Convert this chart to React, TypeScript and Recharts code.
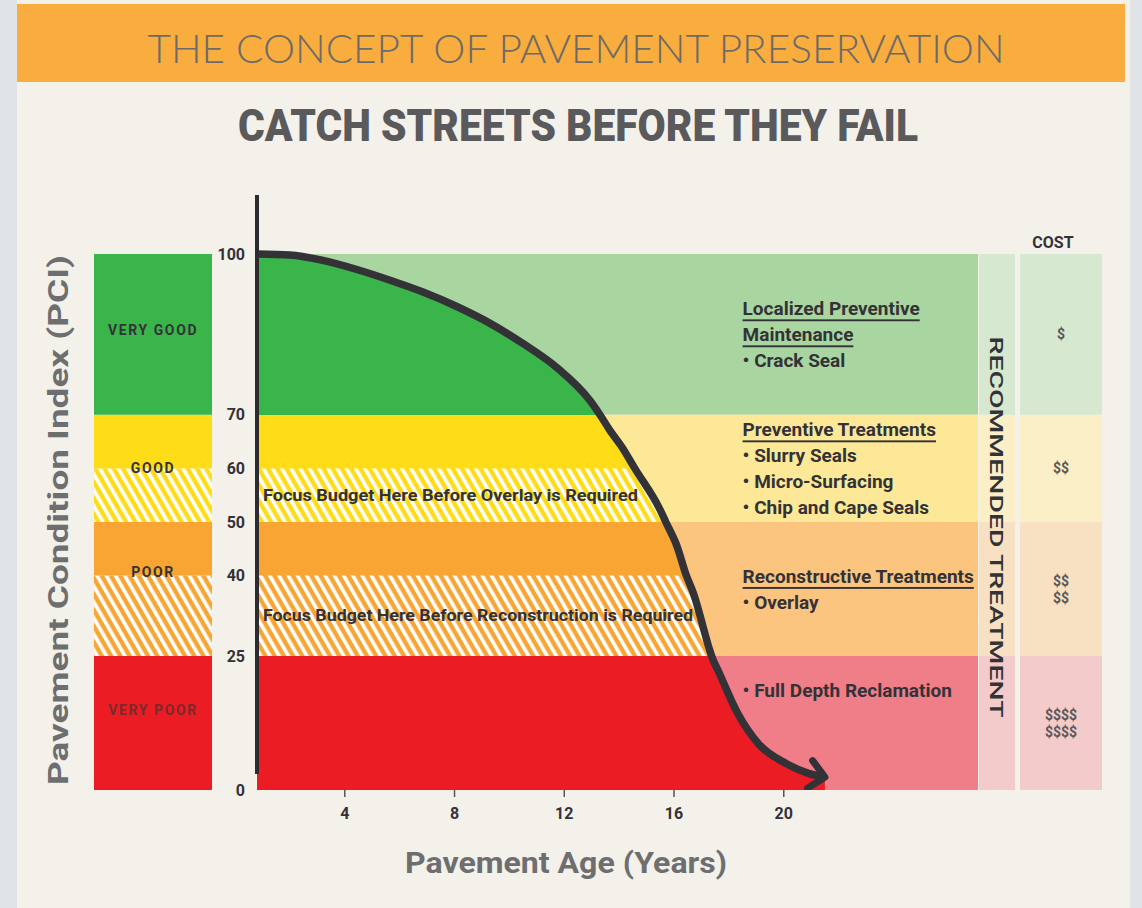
import React from 'react';
import {
  ComposedChart,
  Area,
  Line,
  XAxis,
  YAxis,
  ReferenceArea,
  ReferenceLine,
  BarChart,
  Bar,
} from 'recharts';

// ---------- data ----------
const ageYears = [0.8, 2.0, 3.2, 4.44, 5.65, 6.85, 8.08, 9.28, 10.49, 11.73, 12.93, 13.3, 13.65, 14.1, 14.57, 15.48, 15.7, 16.1, 16.45, 16.7, 17.3, 17.37, 17.66, 18.3, 19.1, 20.1, 20.9, 21.5];
const pciValues = [100, 99.8, 98.8, 97.1, 95.1, 92.9, 90.2, 87.1, 83.3, 78.8, 72.7, 70, 67.2, 64, 60, 52.4, 50, 45.6, 40, 36.8, 26.1, 25, 21.7, 14.5, 8.5, 4.9, 3.1, 2.4];

const ageTicks = [4, 8, 12, 16, 20];
const pciTicks = [0, 25, 40, 50, 60, 70, 100];

// condition groups, top to bottom
const groupNames = ['VERY GOOD', 'GOOD', 'POOR', 'VERY POOR'];
const groupHi = [100, 70, 50, 25];
const groupLo = [70, 50, 25, 0];

// bands, top to bottom
const bandHi = [100, 70, 60, 50, 40, 25];
const bandLo = [70, 60, 50, 40, 25, 0];
const bandGroup = [0, 1, 1, 2, 2, 3];
const bandHatched = [false, false, true, false, true, false];

// hatched "focus budget" bands [low, high]
const hatchedBands = [[50, 60], [25, 40]];
const focusTexts = ['Focus Budget Here Before Overlay is Required', 'Focus Budget Here Before Reconstruction is Required'];
const focusTextWidths = [375, 430];

// treatments per group, top to bottom
const treatmentTitles = [['Localized Preventive', 'Maintenance'], ['Preventive Treatments'], ['Reconstructive Treatments'], []];
const treatmentItems = [['Crack Seal'], ['Slurry Seals', 'Micro-Surfacing', 'Chip and Cape Seals'], ['Overlay'], ['Full Depth Reclamation']];
const costLabels = [['$'], ['$$'], ['$$', '$$'], ['$$$$', '$$$$']];

// ---------- styles ----------
const W = 1142;
const H = 908;
const FONT = 'Roboto, "Open Sans", Lato, sans-serif';
const DARK = '#333237';
const groupSat = ['#3ab54a', '#fedc18', '#f9a533', '#ec1c24'];
const groupLight = ['#a9d6a0', '#fde898', '#fbc47f', '#f07e88'];
const groupPale = ['#d6e8cf', '#faefc6', '#f8e0c2', '#f4cbcb'];
const groupTextShift = [0, 0, 0, -33];
const leftLabelBand = [0, 1, 3, 5];
const leftLabelFrac = [0.47, 1.0, 0.93, 0.4];
const leftLabelColor = [DARK, DARK, DARK, '#7a2a2a'];

const curveData = ageYears.map((age, i) => {
  const pci = pciValues[i];
  const row: any = { age, pci };
  hatchedBands.forEach(([lo, hi], k) => {
    row['h' + k] = pci >= lo ? [lo, Math.min(pci, hi)] : null;
  });
  return row;
});

const COL_TOP = 254;
const COL_H = 536;

function HatchDefs() {
  return (
    <defs>
      <pattern id="whiteStripes" patternUnits="userSpaceOnUse" width="8" height="8" patternTransform="rotate(-30)">
        <rect x="0" y="0" width="3.6" height="8" fill="#ffffff" />
      </pattern>
      <pattern id="hatchY" patternUnits="userSpaceOnUse" width="8" height="8" patternTransform="rotate(-30)">
        <rect x="0" y="0" width="8" height="8" fill={groupSat[1]} />
        <rect x="0" y="0" width="3.6" height="8" fill="#ffffff" />
      </pattern>
      <pattern id="hatchO" patternUnits="userSpaceOnUse" width="8" height="8" patternTransform="rotate(-30)">
        <rect x="0" y="0" width="8" height="8" fill={groupSat[2]} />
        <rect x="0" y="0" width="3.6" height="8" fill="#ffffff" />
      </pattern>
    </defs>
  );
}

function StackColumn({ id, width, values, fills, labelFor }: { id: string; width: number; values: number[]; fills: string[]; labelFor?: (i: number) => any }) {
  const row: any = { cat: id };
  values.forEach((v, i) => {
    row['s' + i] = v;
  });
  const order = values.map((_, i) => i).reverse();
  return (
    <BarChart width={width} height={COL_H} data={[row]} margin={{ top: 0, right: 0, bottom: 0, left: 0 }} barCategoryGap={0} barGap={0}>
      <HatchDefs />
      <XAxis dataKey="cat" type="category" hide />
      <YAxis type="number" domain={[0, 100]} hide />
      {order.map((i) => {
        const lab = labelFor ? labelFor(i) : null;
        return (
          <Bar key={i} dataKey={'s' + i} stackId="s" fill={fills[i]} isAnimationActive={false} {...(lab ? { label: lab } : {})} />
        );
      })}
    </BarChart>
  );
}

const leftLabel = (text: string, frac: number, color: string) => (props: any) => {
  const vb = props.viewBox && props.viewBox.width ? props.viewBox : props;
  return (
    <text x={vb.x + vb.width / 2} y={vb.y + vb.height * frac} textAnchor="middle" dominantBaseline="central" fontFamily={FONT} fontSize={14} fontWeight={700} letterSpacing={1.6} fill={color}>
      {text}
    </text>
  );
};

const costLabel = (lines: string[]) => (props: any) => {
  const vb = props.viewBox && props.viewBox.width ? props.viewBox : props;
  const lh = 17;
  const y0 = vb.y + vb.height / 2 - ((lines.length - 1) * lh) / 2;
  return (
    <text textAnchor="middle" dominantBaseline="central" fontFamily={FONT} fontSize={14} fontWeight={700} fill="#58585a">
      {lines.map((l, i) => (
        <tspan key={i} x={vb.x + vb.width / 2} y={y0 + i * lh}>
          {l}
        </tspan>
      ))}
    </text>
  );
};

const focusLabel = (text: string, width: number) => (props: any) => {
  const vb = props.viewBox && props.viewBox.width ? props.viewBox : props;
  return (
    <text x={vb.x + 6} y={vb.y + vb.height / 2} dominantBaseline="central" textLength={width} lengthAdjust="spacingAndGlyphs" fontFamily={FONT} fontSize={16} fontWeight={700} fill={DARK}>
      {text}
    </text>
  );
};

const treatmentLabel = (titles: string[], items: string[], shift: number) => (props: any) => {
  const vb = props.viewBox && props.viewBox.width ? props.viewBox : props;
  const lines = [...titles.map((t) => ({ t, u: true })), ...items.map((t) => ({ t: '\u2022 ' + t, u: false }))];
  const lh = 26;
  const y0 = vb.y + vb.height / 2 - ((lines.length - 1) * lh) / 2 + shift;
  return (
    <text dominantBaseline="central" fontFamily={FONT} fontSize={19} fontWeight={700} fill={DARK}>
      {lines.map((l, i) => (
        <tspan key={i} x={vb.x} y={y0 + i * lh} textDecoration={l.u ? 'underline' : undefined}>
          {l.t}
        </tspan>
      ))}
    </text>
  );
};

function MainChart() {
  const stops: any[] = [];
  groupHi.forEach((hi, g) => {
    stops.push(<stop key={'a' + g} offset={(100 - hi) / 100} stopColor={groupSat[g]} />);
    stops.push(<stop key={'b' + g} offset={(100 - groupLo[g]) / 100} stopColor={groupSat[g]} />);
  });
  return (
    <ComposedChart width={W} height={H} data={curveData} margin={{ top: 195, right: 164, bottom: 88, left: 207 }}>
      <HatchDefs />
      <defs>
        <linearGradient id="satFill" x1="0" y1="0" x2="0" y2="1">
          {stops}
        </linearGradient>
        <marker id="arrowHead" markerUnits="userSpaceOnUse" markerWidth="50" markerHeight="50" viewBox="-25 -25 50 50" refX="0" refY="0" orient="auto">
          <path d="M-15,-14 L0,0 L-15,14" fill="none" stroke={DARK} strokeWidth="7" strokeLinecap="round" strokeLinejoin="round" />
        </marker>
      </defs>
      <XAxis
        type="number"
        dataKey="age"
        domain={[0.8, 27.08]}
        ticks={ageTicks}
        interval={0}
        allowDataOverflow
        axisLine={false}
        tickLine={{ stroke: '#555', strokeWidth: 1.5 }}
        tickSize={7}
        tickMargin={11}
        height={30}
        tick={{ fontFamily: FONT, fontSize: 16, fontWeight: 700, fill: DARK }}
      />
      <YAxis
        type="number"
        domain={[0, 111]}
        ticks={pciTicks}
        interval={0}
        allowDataOverflow
        axisLine={false}
        tickLine={false}
        tickSize={0}
        tickMargin={12}
        width={50}
        tick={{ fontFamily: FONT, fontSize: 16, fontWeight: 700, fill: DARK }}
      />
      {groupHi.map((hi, g) => (
        <ReferenceArea key={'tint' + g} y1={groupLo[g]} y2={hi} fill={groupLight[g]} fillOpacity={1} stroke="none" />
      ))}
      <Area type="monotone" dataKey="pci" baseValue={0} fill="url(#satFill)" fillOpacity={1} stroke="none" dot={false} activeDot={false} isAnimationActive={false} />
      {hatchedBands.map((_, k) => (
        <Area key={'hatch' + k} type="linear" dataKey={'h' + k} fill="url(#whiteStripes)" fillOpacity={1} stroke="none" dot={false} activeDot={false} isAnimationActive={false} />
      ))}
      <Line type="monotone" dataKey="pci" stroke={DARK} strokeWidth={7.5} dot={false} activeDot={false} markerEnd="url(#arrowHead)" isAnimationActive={false} />
      <ReferenceLine segment={[{ x: 0.8, y: 3 }, { x: 0.8, y: 111 }]} stroke="#2c2b30" strokeWidth={4} ifOverflow="visible" />
      {hatchedBands.map(([lo, hi], k) => (
        <ReferenceArea key={'focus' + k} y1={lo} y2={hi} fill="none" fillOpacity={0} stroke="none" label={focusLabel(focusTexts[k], focusTextWidths[k])} />
      ))}
      {groupHi.map((hi, g) => (
        <ReferenceArea key={'treat' + g} x1={18.5} y1={groupLo[g]} y2={hi} fill="none" fillOpacity={0} stroke="none" label={treatmentLabel(treatmentTitles[g], treatmentItems[g], groupTextShift[g])} />
      ))}
    </ComposedChart>
  );
}

export default function App() {
  const bandSizes = bandHi.map((hi, i) => hi - bandLo[i]);
  const bandFills = bandHi.map((_, i) => (bandHatched[i] ? (bandGroup[i] === 1 ? 'url(#hatchY)' : 'url(#hatchO)') : groupSat[bandGroup[i]]));
  const groupSizes = groupHi.map((hi, g) => hi - groupLo[g]);

  return (
    <div style={{ position: 'absolute', left: 0, top: 0, width: W, height: H, background: '#e1e4e7', overflow: 'hidden' }}>
      <div style={{ position: 'absolute', left: 17, top: 0, width: 1113, height: H, background: '#f3f1ea' }} />
      <div style={{ position: 'absolute', left: 17, top: 4, width: 1108, height: 78, background: '#f9ad3e' }} />
      <svg style={{ position: 'absolute', left: 0, top: 0 }} width={W} height={H}>
        <text x={576} y={63} textAnchor="middle" textLength={857} lengthAdjust="spacingAndGlyphs" fontFamily="Lato, 'Open Sans', sans-serif" fontWeight={300} fontSize={40} fill="#6e6b66">
          THE CONCEPT OF PAVEMENT PRESERVATION
        </text>
        <text x={578} y={141} textAnchor="middle" textLength={680} lengthAdjust="spacingAndGlyphs" fontFamily={FONT} fontWeight={900} fontSize={44} fill="#5a5a5c">
          CATCH STREETS BEFORE THEY FAIL
        </text>
        <text transform="translate(68,520) rotate(-90)" textAnchor="middle" textLength={530} lengthAdjust="spacingAndGlyphs" fontFamily={FONT} fontWeight={700} fontSize={27} fill="#6d6e70">
          Pavement Condition Index (PCI)
        </text>
        <text x={566} y={873} textAnchor="middle" textLength={322} lengthAdjust="spacingAndGlyphs" fontFamily={FONT} fontWeight={700} fontSize={29} fill="#6d6e70">
          Pavement Age (Years)
        </text>
        <text x={1053} y={248} textAnchor="middle" fontFamily={FONT} fontWeight={700} fontSize={16} fill={DARK}>
          COST
        </text>
      </svg>

      <div style={{ position: 'absolute', left: 94, top: COL_TOP }}>
        <StackColumn
          id="condition"
          width={118}
          values={bandSizes}
          fills={bandFills}
          labelFor={(i) => {
            const k = leftLabelBand.indexOf(i);
            return k >= 0 ? leftLabel(groupNames[k], leftLabelFrac[k], leftLabelColor[k]) : null;
          }}
        />
      </div>
      <div style={{ position: 'absolute', left: 979, top: COL_TOP }}>
        <StackColumn id="recommended" width={36} values={groupSizes} fills={groupPale} />
      </div>
      <div style={{ position: 'absolute', left: 1020, top: COL_TOP }}>
        <StackColumn id="cost" width={82} values={groupSizes} fills={groupPale} labelFor={(g) => costLabel(costLabels[g])} />
      </div>

      <div style={{ position: 'absolute', left: 0, top: 0 }}>
        <MainChart />
      </div>

      <svg style={{ position: 'absolute', left: 0, top: 0, pointerEvents: 'none' }} width={W} height={H}>
        <text transform="translate(990,527) rotate(90)" textAnchor="middle" textLength={381} lengthAdjust="spacingAndGlyphs" fontFamily={FONT} fontWeight={500} fontSize={19} fill={DARK}>
          RECOMMENDED TREATMENT
        </text>
      </svg>
    </div>
  );
}
